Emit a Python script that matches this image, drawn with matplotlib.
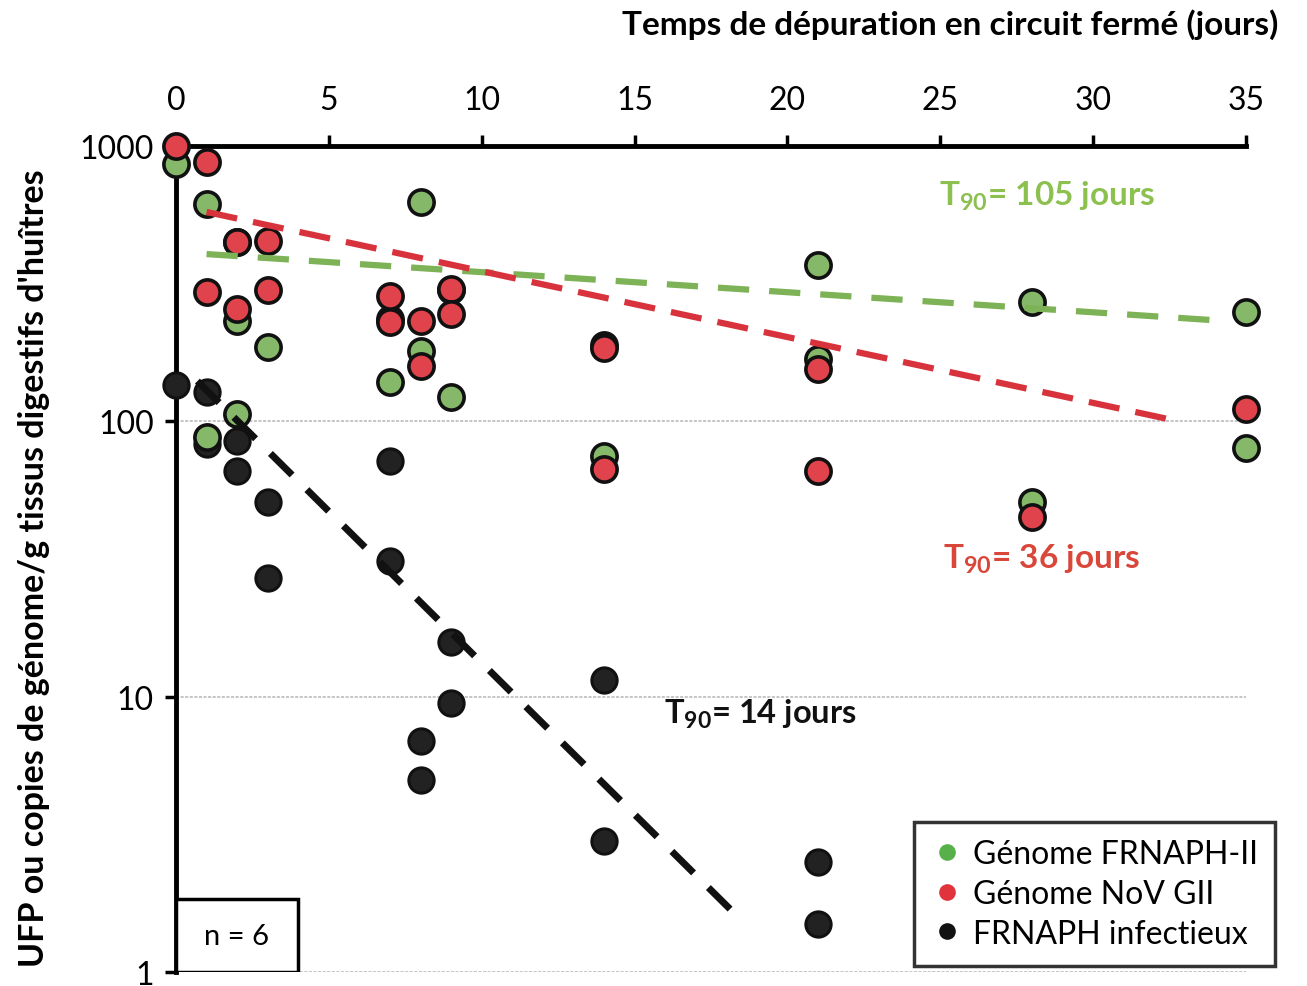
import matplotlib
matplotlib.use("Agg")
import matplotlib.pyplot as plt
from matplotlib.patches import Rectangle
from matplotlib.lines import Line2D
import numpy as np

plt.rcParams['font.family'] = ['Lato', 'DejaVu Sans']
plt.rcParams['mathtext.default'] = 'regular'

# values (days, UFP or genome copies / g)
green_days = [0, 1, 1, 2, 2, 2, 3, 7, 7, 8, 8, 9, 9, 14, 14, 21, 21, 28, 28, 35, 35]
green_vals = [861, 616, 88, 449, 232, 106, 186, 139, 235, 626, 180, 123, 300, 190, 75, 370, 169, 271, 51, 250, 80]

red_days = [0, 1, 1, 2, 2, 3, 3, 7, 7, 8, 8, 9, 9, 14, 14, 21, 21, 28, 35]
red_vals = [1000, 875, 295, 449, 256, 452, 300, 285, 230, 232, 159, 303, 246, 185, 67, 155, 66, 45, 111]

black_days = [0, 1, 1, 2, 2, 3, 3, 7, 7, 8, 8, 9, 9, 14, 14, 21, 21]
black_vals = [135, 128, 83, 85, 66, 51, 27, 72, 31, 6.9, 5.0, 15.8, 9.5, 11.5, 3.0, 2.5, 1.5]

# regression lines (end points)
green_fit_x = [1, 34.2]
green_fit_y = [405, 232]
red_fit_x = [1, 32.8]
red_fit_y = [576, 100]
black_fit_x = [0.7, 18.6]
black_fit_y = [140, 1.5]

c_green = '#86b86a'
c_red = '#e0434b'
c_black = '#222222'

fig = plt.figure(figsize=(13.07, 9.87), dpi=100)
ax = fig.add_axes([176/1307, 1 - 973/987, (1246-176)/1307, (973-147)/987])

ax.set_yscale('log')
ax.set_xlim(0, 35)
ax.set_ylim(1, 1000)

ax.yaxis.grid(True, which='major', color='#b5b5b5', lw=1.1, ls=(0, (2, 1)))
ax.set_axisbelow(True)

ms = 330
ax.scatter(black_days, black_vals, s=ms, c=c_black, edgecolors='#111111', linewidths=2.2, zorder=3, clip_on=False)
ax.scatter(green_days, green_vals, s=ms, c=c_green, edgecolors='#111111', linewidths=2.6, zorder=4, clip_on=False)
ax.scatter(red_days, red_vals, s=ms, c=c_red, edgecolors='#111111', linewidths=2.6, zorder=5, clip_on=False)

ax.plot(green_fit_x, green_fit_y, color='#7db356', lw=4.5, ls=(0, (5, 3.2)), zorder=6)
ax.plot(red_fit_x, red_fit_y, color='#d8333c', lw=4.5, ls=(0, (5, 2.6)), zorder=6)
ax.plot(black_fit_x, black_fit_y, color='#111111', lw=5, ls=(0, (4.4, 3)), zorder=6)

ax.text(28.5, 660, r'T$_{90}$= 105 jours', color='#8cc04f', fontsize=24, fontweight='bold', ha='center', va='center')
ax.text(28.3, 31.7, r'T$_{90}$= 36 jours', color='#d9463a', fontsize=24, fontweight='bold', ha='center', va='center')
ax.text(19.1, 8.7, r'T$_{90}$= 14 jours', color='#111111', fontsize=23.5, fontweight='bold', ha='center', va='center')

# axis on top
ax.xaxis.tick_top()
ax.set_xticks(range(0, 36, 5))
ax.set_yticks([1, 10, 100, 1000])
ax.set_yticklabels(['1', '10', '100', '1000'])
ax.minorticks_off()
ax.tick_params(axis='x', which='major', direction='out', length=8, width=2.5, pad=14, labelsize=23)
ax.tick_params(axis='y', which='major', direction='out', length=8, width=2.5, pad=8, labelsize=23)

for s in ['right', 'bottom']:
    ax.spines[s].set_visible(False)
for s in ['left', 'top']:
    ax.spines[s].set_linewidth(3.5)

ax.set_ylabel("UFP ou copies de génome/g tissus digestifs d'huîtres", fontsize=24.5, fontweight='bold')
ax.yaxis.set_label_coords(-0.118, 0.49)
fig.text(1278/1307, 1 - 25/987, 'Temps de dépuration en circuit fermé (jours)', fontsize=24, fontweight='bold',
         ha='right', va='center')

# n = 6 box
ax.add_patch(Rectangle((0, 0), 0.114, 0.088, transform=ax.transAxes, fill=True, fc='white', ec='black', lw=2.5, zorder=7))
ax.text(0.057, 0.044, 'n = 6', transform=ax.transAxes, ha='center', va='center', fontsize=21, zorder=8)

handles = [
    Line2D([], [], ls='none', marker='o', ms=12, mfc='#58b04a', mec='none'),
    Line2D([], [], ls='none', marker='o', ms=12, mfc='#e0333b', mec='none'),
    Line2D([], [], ls='none', marker='o', ms=12, mfc='#111111', mec='none'),
]
leg = fig.legend(handles, ['Génome FRNAPH-II', 'Génome NoV GII', 'FRNAPH infectieux'],
                 loc='lower right', bbox_to_anchor=(0.988, 0.004), fontsize=23, frameon=True,
                 fancybox=False, edgecolor='black', handletextpad=0.3, handlelength=1.0,
                 borderpad=0.55, labelspacing=0.3)
leg.get_frame().set_linewidth(2.5)

fig.savefig('out.png', dpi=100)
